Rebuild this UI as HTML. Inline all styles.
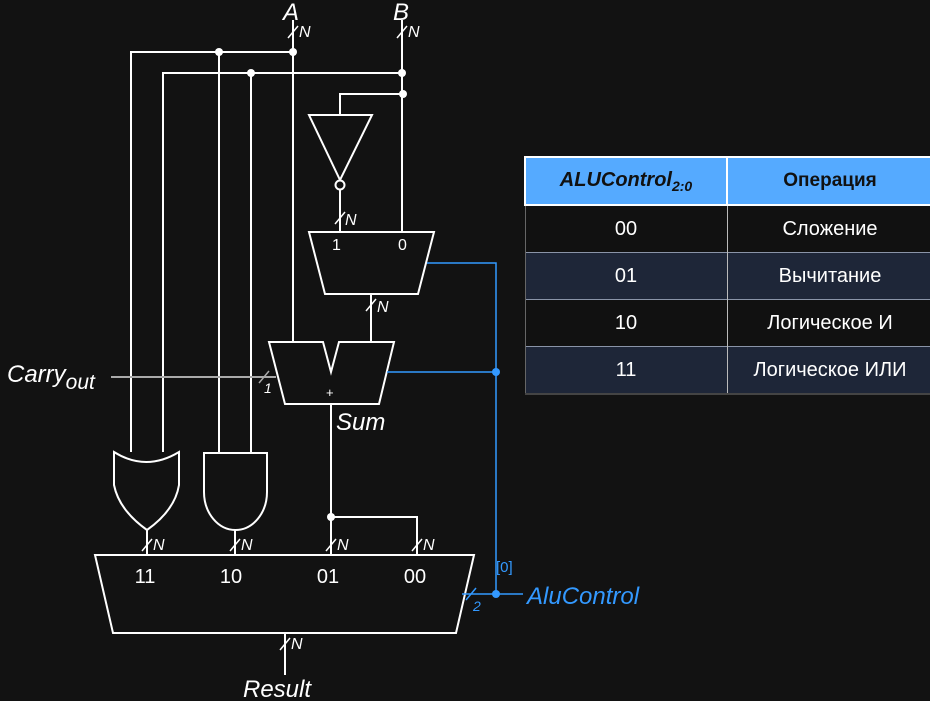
<!DOCTYPE html>
<html><head><meta charset="utf-8"><style>
body{margin:0;background:#121212;width:930px;height:701px;overflow:hidden;position:relative;font-family:"Liberation Sans",sans-serif}
svg{position:absolute;left:0;top:0}
table{position:absolute;left:524px;top:156px;border-collapse:collapse;width:410px}
td{height:46px;text-align:center;color:#fff;font-size:20px;padding:0;border-right:1px solid #bbb;vertical-align:middle}
td:first-child{border-left:1px solid #666}
th{height:46px;background:#55aaff;color:#111;font-size:19px;font-weight:bold;border:2px solid #fff;padding:0}
tr.a td{background:#111;border-top:1px solid #8a94a8}
tr.b td{background:#1e2638;border-top:1px solid #8a94a8}
</style></head><body>
<svg width="930" height="701" viewBox="0 0 930 701" font-family="Liberation Sans, sans-serif">
<g stroke="#fff" stroke-width="2" fill="none">
<path d="M293,20 V342"/><path d="M131,452 V52 H293"/><path d="M219,452 V52"/>
<path d="M163,452 V73 H402"/><path d="M251,452 V73"/>
<path d="M402,20 V232"/><path d="M402,94 H340 V115"/>
<path d="M309,115 H372 L340,180 Z"/><circle cx="340" cy="185" r="4.5" fill="#121212"/>
<path d="M340,190 V232"/>
<path d="M309,232 H434 L418,294 H325 Z"/>
<path d="M371,294 V342"/>
<path d="M269,342 H323 L331,372 L339,342 H394 L379,404 H285 Z"/>
<path d="M331,404 V555"/><path d="M331,517 H417 V555"/>
<path d="M114,452 Q146,472 179,452 L179,485 Q175,510 147,530 Q119,510 114,485 Z"/>
<path d="M204,453 H267 V492 A31.5,38 0 0 1 204,492 Z"/>
<path d="M147,530 V555"/><path d="M235,530 V555"/>
<path d="M95,555 H474 L456,633 H113 Z"/>
<path d="M285,633 V675"/>
</g>
<path d="M111,377 H276" stroke="#aaa" stroke-width="2"/>
<g fill="#fff"><circle cx="293" cy="52" r="4"/><circle cx="219" cy="52" r="4"/><circle cx="251" cy="73" r="4"/><circle cx="402" cy="73" r="4"/><circle cx="403" cy="94" r="4"/><circle cx="331" cy="517" r="4"/></g>
<g stroke="#fff" stroke-width="1.5">
<path d="M288,38 L298,26"/><path d="M397,38 L407,26"/><path d="M335,224 L345,212"/><path d="M366,311 L376,299"/>
<path d="M142,551 L152,539"/><path d="M230,551 L240,539"/><path d="M326,551 L336,539"/><path d="M412,551 L422,539"/><path d="M280,650 L290,638"/>
</g>
<path d="M259,383 L269,371" stroke="#aaa" stroke-width="1.5"/>
<g stroke="#3399ff" stroke-width="1.5" fill="none">
<path d="M427,263 H496 V594"/><path d="M387,372 H496"/><path d="M462,594 H523"/><path d="M466,600 L476,588"/>
</g>
<g fill="#3399ff"><circle cx="496" cy="372" r="4"/><circle cx="496" cy="594" r="4"/></g>
<g fill="#fff" font-style="italic">
<text x="283" y="20" font-size="24">A</text><text x="393" y="20" font-size="24">B</text>
<g font-size="16"><text x="299" y="37">N</text><text x="408" y="37">N</text><text x="345" y="225">N</text><text x="377" y="312">N</text>
<text x="153" y="550">N</text><text x="241" y="550">N</text><text x="337" y="550">N</text><text x="423" y="550">N</text><text x="291" y="649">N</text></g>
<text x="7" y="382" font-size="24">Carry<tspan font-size="21" dy="7">out</tspan></text>
<text x="264" y="393" font-size="14">1</text>
<text x="336" y="430" font-size="24">Sum</text>
<text x="243" y="697" font-size="24">Result</text>
</g>
<g fill="#fff" font-size="16"><text x="332" y="250">1</text><text x="398" y="250">0</text><text x="326" y="397" font-size="13">+</text></g>
<g fill="#fff" font-size="20" text-anchor="middle"><text x="145" y="583">11</text><text x="231" y="583">10</text><text x="328" y="583">01</text><text x="415" y="583">00</text></g>
<g fill="#3399ff"><text x="496" y="572" font-size="15">[0]</text><text x="473" y="611" font-size="14" font-style="italic">2</text><text x="527" y="604" font-size="24" font-style="italic">AluControl</text></g>
</svg>
<table>
<tr><th style="width:200px;font-size:20px"><i>ALUControl<sub style="font-size:14px">2:0</sub></i></th><th>Операция</th></tr>
<tr class="a"><td>00</td><td>Сложение</td></tr>
<tr class="b"><td>01</td><td>Вычитание</td></tr>
<tr class="a"><td>10</td><td>Логическое И</td></tr>
<tr class="b"><td style="border-bottom:2px solid #444">11</td><td style="border-bottom:2px solid #444">Логическое ИЛИ</td></tr>
</table>
</body></html>
